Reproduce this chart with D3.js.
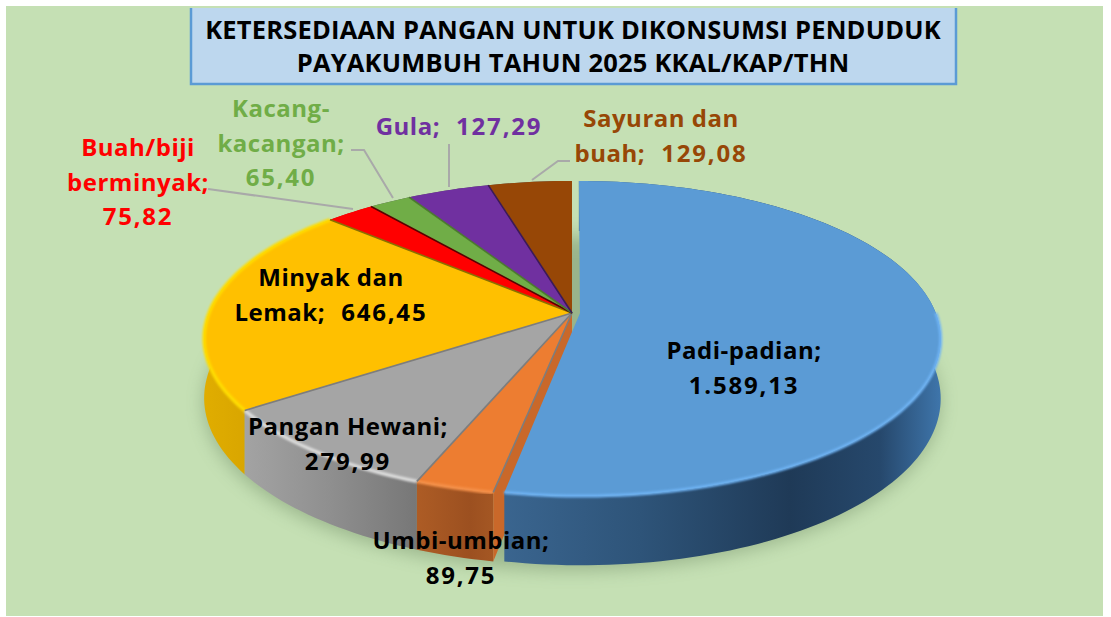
<!DOCTYPE html>
<html><head><meta charset="utf-8">
<script src="https://cdn.jsdelivr.net/npm/d3@7/dist/d3.min.js"></script>
<style>html,body{margin:0;padding:0;background:#fff}svg{display:block}text{font-family:"Open Sans",sans-serif;font-weight:700}</style>
</head><body><svg id="c" width="1111" height="617"></svg>
<script>
const titleLines = ["KETERSEDIAAN PANGAN UNTUK DIKONSUMSI PENDUDUK","PAYAKUMBUH TAHUN 2025 KKAL/KAP/THN"];
const categories = ["Padi-padian","Umbi-umbian","Pangan Hewani","Minyak dan Lemak","Buah/biji berminyak","Kacang-kacangan","Gula","Sayuran dan buah"];
const values = [1589.13,89.75,279.99,646.45,75.82,65.40,127.29,129.08];

// styling and layout, kept apart from the data
const fills=["#5b9bd5","#ed7d31","#a5a5a5","#ffc000","#ff0000","#70ad47","#7030a0","#974706"];
const edges=["#4a80b0","#b5601f","#7d7d7d","#8a7000","#5a0000","#4c7a30","#3b1a58","#4d2604"];
const rims=["#6fb4f5","#f59048","#dcdcdc","#ffdc00","#ff3030","#80c050","#8040b0","#a85510"];
const walls=[
 [[503,"#3a658f"],[640,"#2e5479"],[790,"#1f3a57"],[880,"#26486c"],[942,"#3f76ac"]],
 [[417,"#ad5c25"],[470,"#9c5020"],[503,"#a85a25"]],
 [[245,"#a3a3a3"],[330,"#8f8f8f"],[417,"#777777"]],
 [[204,"#e0ad00"],[245,"#d9a600"]],
 [[300,"#c00"],[340,"#c00"]],[[340,"#555"],[380,"#555"]],[[380,"#555"],[480,"#555"]],[[480,"#555"],[572,"#555"]]
];
const textCol=["#000","#000","#000","#000","#ff0000","#70ad47","#7030a0","#974706"];
const nameLines=[["Padi-padian;"],["Umbi-umbian;"],["Pangan Hewani;"],["Minyak dan","Lemak;"],["Buah/biji","berminyak;"],["Kacang-","kacangan;"],["Gula;"],["Sayuran dan","buah;"]];
const valueInline=[false,false,false,true,false,false,true,true];
const labelPos=[[744,359],[461,549],[348,435],[331,286],[138,156],[281,117],[459,135],[661,127]];
const leaderSegs=[null,null,null,null,[[208,189],[353,209]],[[351,150],[364,150],[393,198]],[[449,144],[449,187]],[[570,161],[558,161],[532,180]]];
const lineGap=34.5;

const fmt=d3.formatLocale({decimal:",",thousands:".",grouping:[3],currency:["",""]}).format(",.2f");

// perspective projection of the unit disc
const k=0.162;
const sx=d3.scaleLinear().domain([-1,1]).range([572-363,572+363]);
const sy=d3.scaleLinear().domain([-1,1]).range([313-153.4,313+153.4]);
const depth=58;
function proj(u,v,d,sh,f){const uu=u*(f||1)+(sh||0);const s=1/(1-k*v);return [sx(uu*s),sy(v*s)+(d?depth*s:0)];}
function rim(a0,a1,d,sh,f){const n=Math.max(4,Math.ceil((a1-a0)*40));return d3.range(n+1).map(i=>{const a=a0+(a1-a0)*i/n;return proj(Math.sin(a),-Math.cos(a),d,sh,f);});}
const line=d3.line();

const svg=d3.select("#c");
const defs=svg.append("defs");
defs.append("filter").attr("id","blur").attr("x","-20%").attr("y","-20%").attr("width","140%").attr("height","140%").append("feGaussianBlur").attr("stdDeviation",9);
defs.append("filter").attr("id","soft").append("feGaussianBlur").attr("stdDeviation",1.1);
walls.forEach((st,i)=>{const g=defs.append("linearGradient").attr("id","w"+i).attr("gradientUnits","userSpaceOnUse")
  .attr("x1",st[0][0]).attr("x2",st[st.length-1][0]).attr("y1",0).attr("y2",0);
  st.forEach(s=>g.append("stop").attr("offset",(s[0]-st[0][0])/(st[st.length-1][0]-st[0][0])).attr("stop-color",s[1]));});

// background and title
svg.append("rect").attr("x",6).attr("y",6).attr("width",1097).attr("height",610).attr("fill","#c5e0b4");
svg.append("rect").attr("x",190).attr("y",8).attr("width",767).attr("height",77).attr("fill","#bdd7ee");
svg.append("path").attr("d",line([[191,8],[191,84],[956,84],[956,8]])).attr("fill","none").attr("stroke","#5b9bd5").attr("stroke-width",2.5);
svg.selectAll("text.t").data(titleLines).join("text").attr("class","t").attr("x",573).attr("y",(d,i)=>39+i*32.5)
 .attr("text-anchor","middle").attr("font-size",25.5).attr("fill","#000").style("letter-spacing","0.2px").text(d=>d);

const arcs=d3.pie().sort(null).value(d=>d)(values);
const shift0=0.022, scale0=0.98;

// ground shadow
const full=rim(0,2*Math.PI,true,0);
svg.append("path").attr("d",line(full)+"Z").attr("fill","#5f7a55").attr("opacity",.42).attr("filter","url(#blur)").attr("transform","translate(0,5)");

// outer walls
[7,6,5,4,3,2,1].forEach(i=>{const a=arcs[i];
  svg.append("path").attr("d",line(rim(a.startAngle,a.endAngle,false).concat(rim(a.startAngle,a.endAngle,true).reverse()))+"Z").attr("fill",`url(#w${i})`);
});
// cut face of the neighbour, seen through the gap left by the pulled-out slice
{const a=arcs[1].startAngle;const tip=proj(Math.sin(a),-Math.cos(a));const tipD=proj(Math.sin(a),-Math.cos(a),true);
 const apex=proj(0,0);const apexD=proj(0,0,true);
 svg.append("path").attr("d",line([apex,tip,tipD,apexD])+"Z").attr("fill","#c9682a");}
// tops of the pie
[1,2,3,4,5,6,7].forEach(i=>{const a=arcs[i];
  svg.append("path").attr("d",line([proj(0,0)].concat(rim(a.startAngle,a.endAngle,false)))+"Z").attr("fill",fills[i]);
  if(a.startAngle>Math.PI/2&&a.startAngle<4.9) svg.append("path").attr("d",line(rim(a.startAngle,a.endAngle,false))).attr("fill","none").attr("stroke",rims[i]).attr("stroke-width",3.5).attr("filter","url(#soft)");
});
[1,2,3,4,5,6,7].forEach(i=>{const a=arcs[i].startAngle;
  svg.append("path").attr("d",line([proj(0,0),proj(Math.sin(a),-Math.cos(a))])).attr("stroke",edges[i===1?2:i-1===1?2:i-1]).attr("stroke-width",1.6).attr("fill","none");
});
// pulled-out slice
{const a=arcs[0];
 svg.append("path").attr("d",line(rim(a.startAngle,a.endAngle,false,shift0,scale0).concat(rim(a.startAngle,a.endAngle,true,shift0,scale0).reverse()))+"Z").attr("fill","url(#w0)");
 svg.append("path").attr("d",line([proj(0,0,false,shift0)].concat(rim(a.startAngle,a.endAngle,false,shift0,scale0)))+"Z").attr("fill",fills[0]);
 svg.append("path").attr("d",line(rim(Math.PI*0.5,a.endAngle,false,shift0,scale0))).attr("fill","none").attr("stroke",rims[0]).attr("stroke-width",3).attr("filter","url(#soft)");
}

// leader lines
leaderSegs.forEach(seg=>{if(seg) svg.append("path").attr("d",line(seg)).attr("fill","none").attr("stroke","#a9a9a9").attr("stroke-width",2);});

// data labels
categories.forEach((c,i)=>{
  const v=fmt(values[i]);
  const t=svg.append("text").attr("text-anchor","middle").attr("fill",textCol[i]).attr("font-size",24);
  const names=nameLines[i];
  names.forEach((s,j)=>{
    const sp=t.append("tspan").attr("x",labelPos[i][0]).attr("y",labelPos[i][1]+j*lineGap).style("letter-spacing","0.5px").text(s);
    if(valueInline[i]&&j===names.length-1){
      t.append("tspan").style("letter-spacing","1.8px").text("\u00a0\u00a0"+v);
    }
  });
  if(!valueInline[i]) t.append("tspan").attr("x",labelPos[i][0]).attr("y",labelPos[i][1]+names.length*lineGap).style("letter-spacing","1.8px").text(v);
});
</script></body></html>
